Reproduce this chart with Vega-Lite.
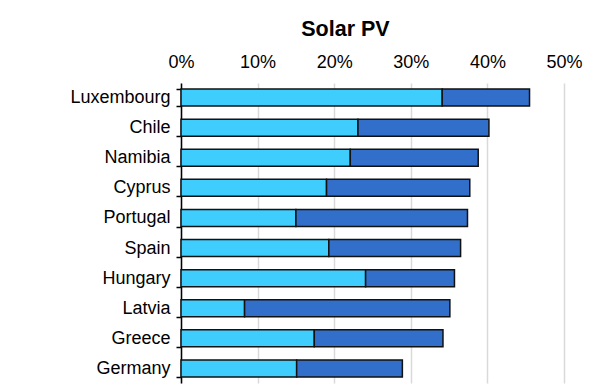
{
  "$schema": "https://vega.github.io/schema/vega-lite/v6.json",
  "width": 383,
  "height": 300,
  "padding": {"left": 69, "top": 18, "right": 10, "bottom": 5},
  "background": "white",
  "title": {"text": "Solar PV", "font": "Liberation Sans", "fontSize": 21.5, "fontWeight": "bold", "color": "#000000", "anchor": "middle", "dx": -27, "offset": 13},
  "data": {"values": [
    {"country": "Luxembourg", "part": "Base", "o": 1, "value": 0.341},
    {"country": "Luxembourg", "part": "Increase", "o": 2, "value": 0.114},
    {"country": "Chile", "part": "Base", "o": 1, "value": 0.231},
    {"country": "Chile", "part": "Increase", "o": 2, "value": 0.171},
    {"country": "Namibia", "part": "Base", "o": 1, "value": 0.221},
    {"country": "Namibia", "part": "Increase", "o": 2, "value": 0.167},
    {"country": "Cyprus", "part": "Base", "o": 1, "value": 0.190},
    {"country": "Cyprus", "part": "Increase", "o": 2, "value": 0.187},
    {"country": "Portugal", "part": "Base", "o": 1, "value": 0.150},
    {"country": "Portugal", "part": "Increase", "o": 2, "value": 0.224},
    {"country": "Spain", "part": "Base", "o": 1, "value": 0.193},
    {"country": "Spain", "part": "Increase", "o": 2, "value": 0.172},
    {"country": "Hungary", "part": "Base", "o": 1, "value": 0.241},
    {"country": "Hungary", "part": "Increase", "o": 2, "value": 0.116},
    {"country": "Latvia", "part": "Base", "o": 1, "value": 0.083},
    {"country": "Latvia", "part": "Increase", "o": 2, "value": 0.268},
    {"country": "Greece", "part": "Base", "o": 1, "value": 0.174},
    {"country": "Greece", "part": "Increase", "o": 2, "value": 0.168},
    {"country": "Germany", "part": "Base", "o": 1, "value": 0.151},
    {"country": "Germany", "part": "Increase", "o": 2, "value": 0.138}
  ]},
  "mark": {"type": "bar", "stroke": "#111111", "strokeWidth": 1.5, "size": 17},
  "encoding": {
    "y": {
      "field": "country", "type": "nominal", "sort": null,
      "scale": {"paddingInner": 0.43, "paddingOuter": 0.2},
      "axis": {
        "title": null, "orient": "left", "tickBand": "extent",
        "labelFont": "Liberation Sans", "labelFontSize": 18, "labelColor": "#000000",
        "labelPadding": 6, "tickSize": 5, "tickColor": "#000000", "tickWidth": 1.5,
        "domainColor": "#000000", "domainWidth": 1.5, "grid": false
      }
    },
    "x": {
      "field": "value", "type": "quantitative", "stack": "zero",
      "scale": {"domain": [0, 0.5], "nice": false},
      "axis": {
        "title": null, "orient": "top", "format": ".0%", "values": [0, 0.1, 0.2, 0.3, 0.4, 0.5],
        "labelFont": "Liberation Sans", "labelFontSize": 18, "labelColor": "#000000",
        "labelPadding": 12, "labelFlush": false, "ticks": false, "domain": false,
        "grid": true, "gridColor": "#d9d9d9", "gridWidth": 1.5
      }
    },
    "color": {
      "field": "part", "type": "nominal",
      "scale": {"domain": ["Base", "Increase"], "range": ["#3fcdfd", "#316fca"]},
      "legend": null
    },
    "order": {"field": "o", "type": "quantitative"}
  },
  "config": {"view": {"stroke": null}}
}
